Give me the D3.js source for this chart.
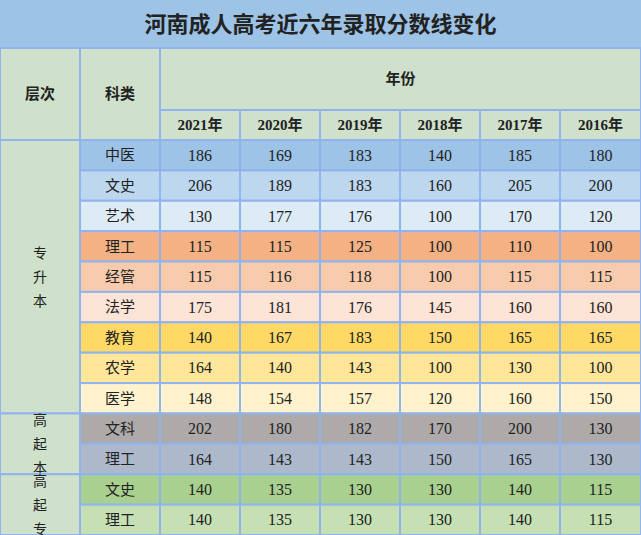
<!DOCTYPE html>
<html><head><meta charset="utf-8">
<script src="https://cdn.jsdelivr.net/npm/d3@7"></script>
<style>body{margin:0;background:#fff}</style>
</head><body><svg id="c" width="641" height="535"></svg>
<script>
const title = '河南成人高考近六年录取分数线变化';
const years = ['2021年', '2020年', '2019年', '2018年', '2017年', '2016年'];
const levels = [['专升本', 9], ['高起本', 2], ['高起专', 2]];
const subjects = ['中医', '文史', '艺术', '理工', '经管', '法学', '教育', '农学', '医学', '文科', '理工', '文史', '理工'];
const scores = [
  [186, 169, 183, 140, 185, 180],
  [206, 189, 183, 160, 205, 200],
  [130, 177, 176, 100, 170, 120],
  [115, 115, 125, 100, 110, 100],
  [115, 116, 118, 100, 115, 115],
  [175, 181, 176, 145, 160, 160],
  [140, 167, 183, 150, 165, 165],
  [164, 140, 143, 100, 130, 100],
  [148, 154, 157, 120, 160, 150],
  [202, 180, 182, 170, 200, 130],
  [164, 143, 143, 150, 165, 130],
  [140, 135, 130, 130, 140, 115],
  [140, 135, 130, 130, 140, 115]
];
const rowColors = ['#9dc3e6', '#bdd7ee', '#ddebf7', '#f4b183', '#f8cbad', '#fce4d6',
  '#ffd966', '#ffe699', '#fff2cc', '#aeaaaa', '#adb9ca', '#a9d08e', '#c6e0b4'];

const svg = d3.select('#c');
const W = 641, H = 535;
const headBg = '#cfe0cb', border = '#8fb4f0';
const xs = [0, 80, 160, 240, 320, 400, 480, 560, W];
const y = d3.scaleBand().domain(d3.range(subjects.length)).range([140, H]);
const cn = '"Noto Sans CJK SC", sans-serif';
const num = '"Liberation Serif", "DejaVu Serif", serif';

function cell(x0, y0, w, h, fill, txt, opts = {}) {
  svg.append('rect').attr('x', x0).attr('y', y0).attr('width', w).attr('height', h)
    .attr('fill', fill).attr('stroke', opts.noStroke ? 'none' : border).attr('stroke-width', 2);
  if (txt == null) return;
  if (opts.vertical) {
    // one text per character so the glyphs stack cleanly
    const chars = txt.split('');
    const lh = 24, start = y0 + h / 2 - (chars.length - 1) * lh / 2;
    chars.forEach((c, i) => svg.append('text').attr('x', x0 + w / 2).attr('y', start + i * lh)
      .attr('dy', '0.35em').attr('text-anchor', 'middle').attr('font-family', cn)
      .attr('font-size', 14).attr('fill', '#222').text(c));
    return;
  }
  svg.append('text').attr('x', x0 + w / 2).attr('y', y0 + h / 2).attr('dy', '0.35em')
    .attr('text-anchor', 'middle').attr('font-family', opts.font || cn).attr('font-size', opts.size || 15)
    .attr('font-weight', opts.bold ? 'bold' : 'normal').attr('fill', '#222').text(txt);
}

// title
cell(0, 0, W, 48, '#9dc3e6', title, { size: 22, bold: true, noStroke: true });
// header
cell(0, 48, 80, 92, headBg, '层次', { bold: true });
cell(80, 48, 80, 92, headBg, '科类', { bold: true });
cell(160, 48, W - 160, 62, headBg, '年份', { bold: true });
years.forEach((yr, i) => cell(xs[i + 2], 110, xs[i + 3] - xs[i + 2], 30, headBg, yr, { bold: true, font: num + ',' + cn }));

// level column
let r = 0;
levels.forEach(([name, n]) => {
  const y0 = y(r), y1 = r + n >= subjects.length ? H : y(r + n);
  cell(0, y0, 80, y1 - y0, headBg, name, { vertical: true });
  r += n;
});

// body rows
subjects.forEach((s, i) => {
  const y0 = y(i), h = y.bandwidth();
  cell(80, y0, 80, h, rowColors[i], s);
  scores[i].forEach((v, j) => cell(xs[j + 2], y0, xs[j + 3] - xs[j + 2], h, rowColors[i], v, { font: num, size: 16 }));
});
</script></body></html>
